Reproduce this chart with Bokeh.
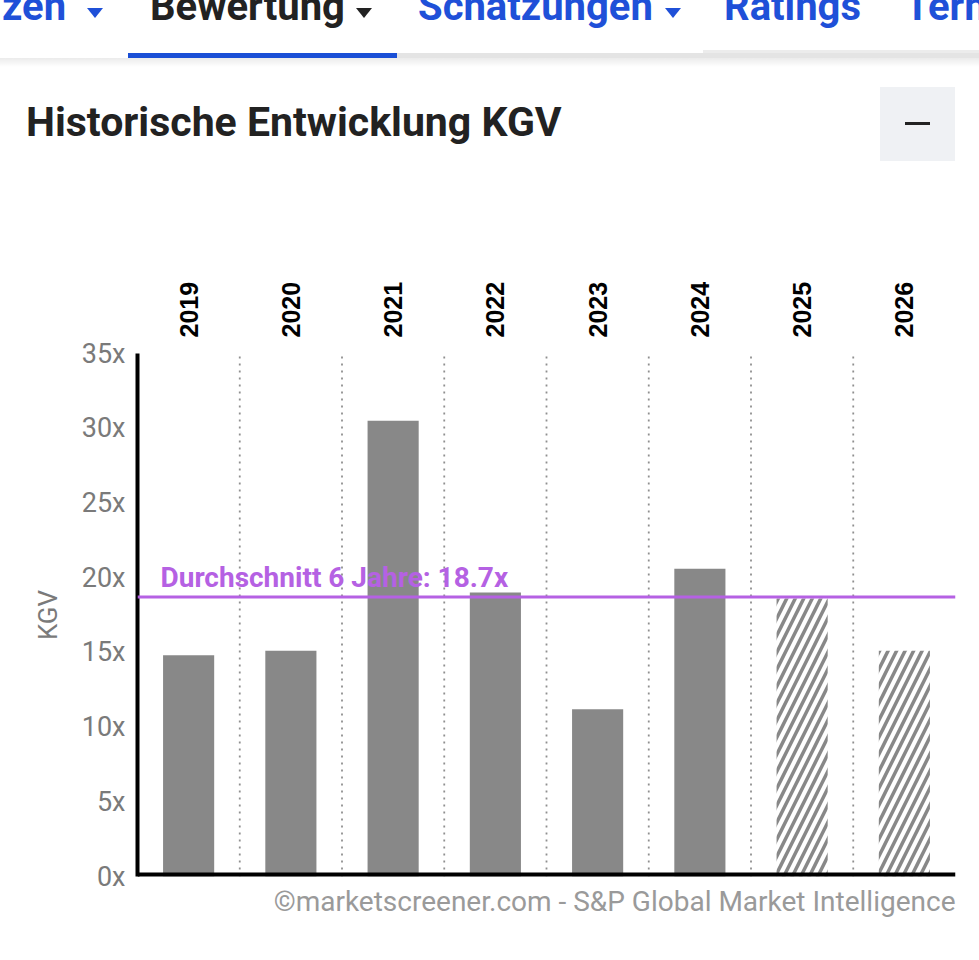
from bokeh.plotting import figure
from bokeh.models import FactorRange, Range1d, FixedTicker, Span, Label, Title, Div
from bokeh.layouts import column
from bokeh.embed import file_html
from bokeh.resources import INLINE

# ---- data ----
years = ["2019", "2020", "2021", "2022", "2023", "2024", "2025", "2026"]
kgv = [14.8, 15.1, 30.5, 19.0, 11.2, 20.6, 18.6, 15.1]
is_estimate = [False, False, False, False, False, False, True, True]
avg_value = 18.7
avg_label = "Durchschnitt 6 Jahre: 18.7x"
y_ticks = [0, 5, 10, 15, 20, 25, 30, 35]
y_tick_labels = ["0x", "5x", "10x", "15x", "20x", "25x", "30x", "35x"]
title_text = "Historische Entwicklung KGV"
footer_text = "©marketscreener.com - S&P Global Market Intelligence"
nav_items = ["zen", "Bewertung", "Schätzungen", "Ratings", "Term"]
nav_active = [False, True, False, False, False]
nav_menu = [True, True, True, False, False]

BLUE = "#1f50d8"
DARK = "#222222"
PURPLE = "#b561e3"
BAR = "#888888"
GREY_TXT = "#7a7a7a"

W = 979
HEADER_H = 240

# ---- header (HTML) ----
nav_left = [2, 150, 418, 724, 905]
tri_left = [87, 356, 665]
parts = []
ti = 0
for name, left, active, menu in zip(nav_items, nav_left, nav_active, nav_menu):
    col = DARK if active else BLUE
    parts.append(
        f'<span style="position:absolute;left:{left}px;top:-13px;font-family:Roboto;'
        f'font-weight:bold;font-size:40px;line-height:40px;color:{col};white-space:nowrap">{name}</span>')
    if menu:
        parts.append(
            f'<div style="position:absolute;left:{tri_left[ti]}px;top:8px;width:0;height:0;'
            f'border-left:8px solid transparent;border-right:8px solid transparent;'
            f'border-top:10px solid {col}"></div>')
        ti += 1
parts.append('<div style="position:absolute;left:0;top:58px;width:979px;height:9px;'
             'background:linear-gradient(rgba(0,0,0,0.08), rgba(0,0,0,0))"></div>')
parts.append('<div style="position:absolute;left:397px;top:53px;width:582px;height:5px;background:#e4e4e4"></div>')
parts.append('<div style="position:absolute;left:703px;top:50px;width:276px;height:3px;background:#ececec"></div>')
parts.append('<div style="position:absolute;left:128px;top:53px;width:269px;height:5px;background:#1a4fd6"></div>')
parts.append(
    f'<span style="position:absolute;left:26px;top:102px;font-family:Roboto;font-weight:bold;'
    f'font-size:41px;line-height:41px;color:{DARK};white-space:nowrap">{title_text}</span>')
parts.append('<div style="position:absolute;left:880px;top:87px;width:75px;height:74px;background:#eff1f4"></div>')
parts.append(f'<div style="position:absolute;left:905px;top:122px;width:25px;height:3px;background:{DARK}"></div>')

header = Div(text=f'<div style="position:relative;width:{W}px;height:{HEADER_H}px;overflow:hidden;'
                  f'background:white">' + "".join(parts) + '</div>',
             width=W, height=HEADER_H, margin=0)

# ---- main chart ----
p = figure(width=W, height=720, x_range=FactorRange(factors=years), y_range=Range1d(0, 35),
           output_backend="svg", toolbar_location=None, x_axis_location="above",
           min_border_left=137, min_border_right=24, min_border_top=113, min_border_bottom=84,
           margin=0)
p.outline_line_color = None
p.xgrid.visible = False
p.ygrid.visible = False

# dotted separators between categories
bounds = [i + 1 for i in range(len(years) - 1)]
p.segment(x0=bounds, y0=0, x1=bounds, y1=35, line_color="#8f8f8f", line_width=1.8, line_dash="2 5")

act_x = [y for y, e in zip(years, is_estimate) if not e]
act_v = [v for v, e in zip(kgv, is_estimate) if not e]
est_x = [y for y, e in zip(years, is_estimate) if e]
est_v = [v for v, e in zip(kgv, is_estimate) if e]
p.vbar(x=act_x, top=act_v, width=0.5, fill_color=BAR, line_color=None)
p.vbar(x=est_x, top=est_v, width=0.5, fill_color="white", line_color=None,
       hatch_pattern="/", hatch_color=BAR, hatch_weight=3.5, hatch_scale=17)

p.add_layout(Span(location=avg_value, dimension="width", line_color=PURPLE, line_width=3))
p.add_layout(Label(x=0, y=avg_value, x_offset=23, y_offset=20, text=avg_label,
                   text_color=PURPLE, text_font="Roboto", text_font_style="bold",
                   text_font_size="28px", text_baseline="alphabetic"))

# bottom baseline
p.add_layout(Span(location=0, dimension="width", line_color="black", line_width=8))

# top axis with years
ax = p.xaxis[0]
ax.axis_line_color = None
ax.major_tick_line_color = None
ax.minor_tick_line_color = None
ax.major_tick_out = 0
ax.major_tick_in = 0
ax.major_label_orientation = "vertical"
ax.major_label_text_font = "Liberation Sans"
ax.major_label_text_font_style = "bold"
ax.major_label_text_font_size = "25px"
ax.major_label_text_color = "black"
ax.major_label_standoff = 16

# y axis
yx = p.yaxis[0]
yx.ticker = FixedTicker(ticks=y_ticks)
yx.major_label_overrides = {t: l for t, l in zip(y_ticks, y_tick_labels)}
yx.minor_tick_line_color = None
yx.major_tick_line_color = None
yx.major_tick_out = 0
yx.major_tick_in = 0
yx.axis_line_width = 4
yx.axis_line_color = "black"
yx.major_label_text_font = "Roboto"
yx.major_label_text_font_size = "27px"
yx.major_label_text_color = GREY_TXT
yx.major_label_standoff = 12
yx.axis_label = "KGV"
yx.axis_label_text_font = "Roboto"
yx.axis_label_text_font_style = "normal"
yx.axis_label_text_font_size = "26px"
yx.axis_label_text_color = GREY_TXT
yx.axis_label_standoff = 16

p.add_layout(Title(text=footer_text, align="right", text_font="Roboto", text_font_size="28px",
                   text_font_style="normal", text_color="#9a9a9a", standoff=12), "below")

layout = column(header, p, spacing=0)
open("out.html", "w").write(file_html(layout, INLINE))
